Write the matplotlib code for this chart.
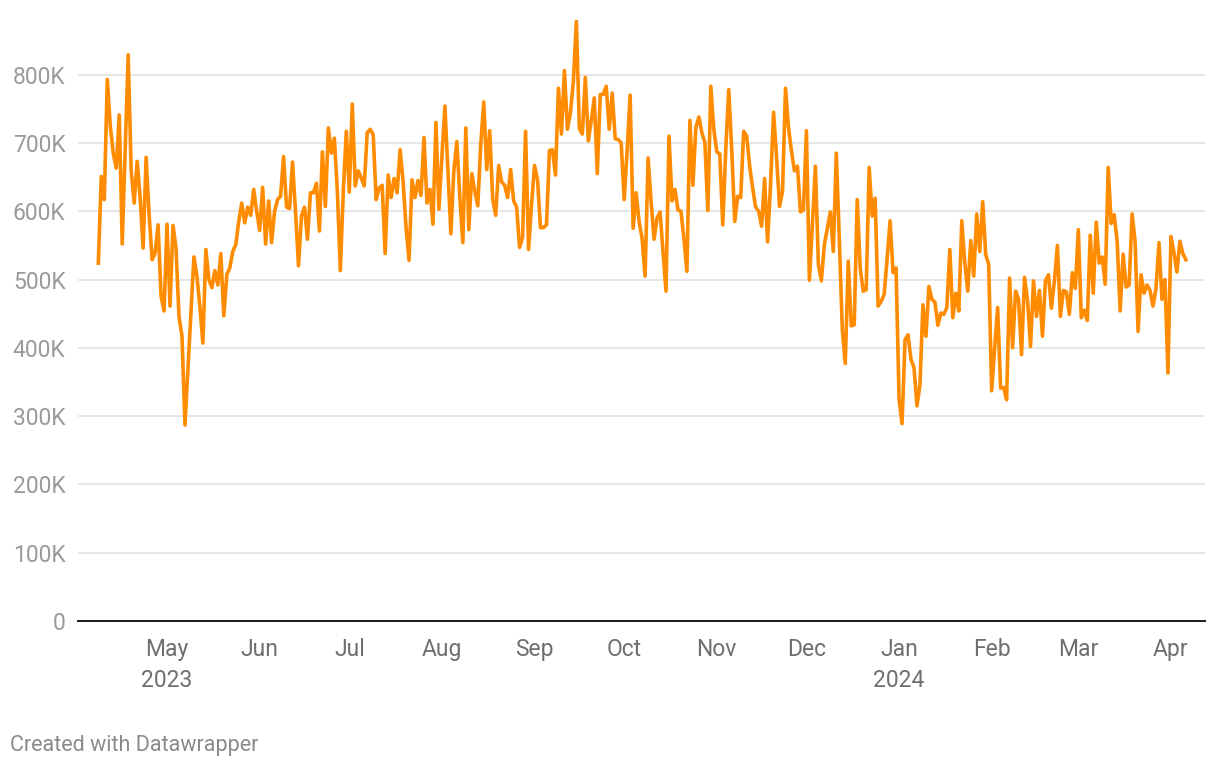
from __future__ import annotations

import matplotlib

matplotlib.use("Agg")
import matplotlib.dates as mdates
import matplotlib.pyplot as plt
import pandas as pd
from matplotlib.ticker import FuncFormatter

# daily values, thousands, starting 2023-04-08
START_DATE = "2023-04-08"
DAILY_K = [
    524, 651, 617, 793, 725, 685, 663, 741, 552, 690,
    829, 659, 612, 673, 620, 546, 679, 595, 529, 539,
    580, 476, 454, 581, 461, 579, 546, 446, 417, 287,
    370, 450, 533, 505, 460, 407, 544, 500, 488, 513,
    492, 538, 447, 507, 517, 541, 551, 585, 612, 583,
    606, 594, 632, 600, 572, 635, 552, 615, 554, 600,
    617, 622, 680, 606, 604, 672, 600, 520, 593, 606,
    559, 627, 627, 641, 571, 687, 607, 722, 685, 707,
    630, 513, 630, 717, 628, 757, 637, 659, 649, 637,
    715, 720, 712, 617, 634, 638, 538, 653, 620, 648,
    627, 690, 644, 576, 528, 646, 620, 645, 623, 708,
    612, 632, 581, 730, 603, 680, 754, 660, 567, 660,
    702, 620, 554, 722, 573, 655, 630, 608, 698, 760,
    661, 718, 617, 594, 667, 643, 638, 620, 661, 615,
    606, 547, 562, 717, 544, 610, 667, 646, 576, 576,
    580, 689, 690, 653, 780, 713, 806, 720, 744, 790,
    878, 721, 713, 796, 703, 733, 766, 655, 771, 771,
    783, 720, 773, 706, 705, 700, 617, 690, 770, 575,
    627, 585, 560, 505, 678, 615, 559, 590, 599, 540,
    483, 710, 615, 632, 602, 600, 560, 512, 733, 638,
    723, 738, 715, 701, 601, 783, 720, 687, 684, 580,
    690, 778, 690, 585, 622, 620, 717, 710, 666, 634,
    606, 600, 578, 648, 555, 640, 745, 680, 607, 629,
    780, 722, 688, 659, 666, 599, 602, 718, 499, 580,
    666, 522, 498, 551, 575, 599, 541, 685, 560, 427,
    377, 527, 432, 434, 617, 517, 483, 485, 664, 593,
    619, 461, 468, 478, 530, 586, 510, 517, 325, 289,
    412, 419, 383, 371, 315, 346, 463, 417, 490, 471,
    467, 433, 451, 449, 459, 544, 444, 480, 454, 586,
    525, 483, 557, 505, 596, 541, 614, 537, 522, 337,
    400, 459, 341, 342, 324, 502, 400, 483, 471, 390,
    503, 470, 402, 498, 446, 484, 417, 498, 507, 458,
    498, 550, 446, 484, 482, 449, 510, 487, 573, 444,
    455, 440, 565, 480, 584, 524, 533, 493, 664, 582,
    595, 556, 454, 537, 489, 492, 596, 556, 424, 507,
    480, 492, 484, 461, 487, 554, 471, 500, 363, 563,
    540, 511, 556, 538, 529,
]

Y_TICKS = [0, 100_000, 200_000, 300_000, 400_000, 500_000, 600_000, 700_000, 800_000]
MONTH_TICKS = [
    "2023-05-01", "2023-06-01", "2023-07-01", "2023-08-01", "2023-09-01", "2023-10-01",
    "2023-11-01", "2023-12-01", "2024-01-01", "2024-02-01", "2024-03-01", "2024-04-01",
]
MONTH_LABELS = [
    "May\n2023", "Jun", "Jul", "Aug", "Sep", "Oct",
    "Nov", "Dec", "Jan\n2024", "Feb", "Mar", "Apr",
]

LINE_COLOR = "#ff8c00"
GRID_COLOR = "#e2e2e2"
Y_LABEL_COLOR = "#9a9a9a"
X_LABEL_COLOR = "#6f6f6f"

plt.rcParams["font.family"] = ["Roboto", "DejaVu Sans"]


def y_label(value: float, _pos: int) -> str:
    if value == 0:
        return "0"
    return f"{int(round(value / 1000))}K"


def main() -> None:
    dates = pd.date_range(START_DATE, periods=len(DAILY_K), freq="D")
    values = [v * 1000 for v in DAILY_K]

    fig = plt.figure(figsize=(12.2, 7.68), dpi=100, facecolor="white")
    # axes box in pixels: left 78, right 1205, baseline y=621, top y=20
    ax = fig.add_axes([78 / 1220, 1 - 621 / 768, (1205 - 78) / 1220, (621 - 20) / 768])

    ax.plot(dates, values, color=LINE_COLOR, lw=2.6, solid_joinstyle="round", zorder=3)

    may_first = mdates.datestr2num("2023-05-01")
    ax.set_xlim(may_first - 29.8, may_first + 347.4)
    ax.set_ylim(0, 880_000)

    ax.set_yticks(Y_TICKS)
    ax.yaxis.set_major_formatter(FuncFormatter(y_label))
    ax.set_xticks([mdates.datestr2num(d) for d in MONTH_TICKS])
    ax.set_xticklabels(MONTH_LABELS, linespacing=1.45)

    ax.yaxis.grid(True, color=GRID_COLOR, lw=1.2, zorder=0)
    ax.set_axisbelow(True)
    for side in ("top", "right", "left"):
        ax.spines[side].set_visible(False)
    ax.spines["bottom"].set_color("#1a1a1a")
    ax.spines["bottom"].set_linewidth(1.4)
    ax.spines["bottom"].set_zorder(4)

    ax.tick_params(axis="y", length=0, pad=9, labelsize=16.5, labelcolor=Y_LABEL_COLOR)
    ax.tick_params(axis="x", length=0, pad=12, labelsize=16.5, labelcolor=X_LABEL_COLOR)

    fig.text(10 / 1220, 1 - 745 / 768, "Created with Datawrapper", fontsize=15.5,
             color="#8a8a8a", ha="left", va="center")

    fig.savefig("out.png", dpi=100, facecolor="white")
    plt.close(fig)


if __name__ == "__main__":
    main()
